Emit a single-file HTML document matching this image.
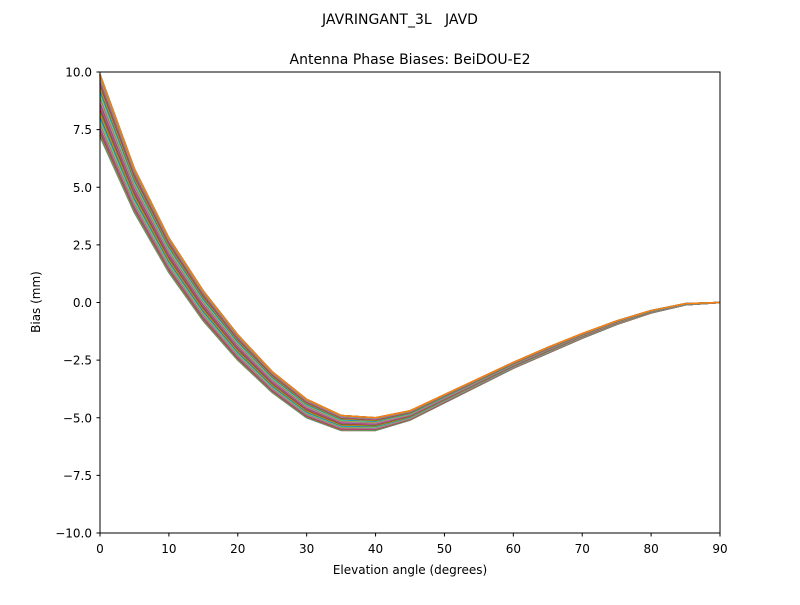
<!DOCTYPE html>
<html><head><meta charset="utf-8"><style>
body{margin:0;background:#fff;font-family:"Liberation Sans","DejaVu Sans",sans-serif}
svg text{font-family:"DejaVu Sans","Liberation Sans",sans-serif}
</style></head><body>
<svg id="chart" width="800" height="600" xmlns="http://www.w3.org/2000/svg">
<rect width="800" height="600" fill="#fff"/>
<text x="400" y="24" font-size="14" text-anchor="middle">JAVRINGANT_3L&#160;&#160;&#160;JAVD</text>
<text x="410" y="64" font-size="14" text-anchor="middle">Antenna Phase Biases: BeiDOU-E2</text>
<g id="lines"></g>
<rect x="100" y="72" width="620" height="461" fill="none" stroke="#000" stroke-width="1"/>
<g id="xt"></g>
<g id="yt"></g>
<text x="410" y="574" font-size="12" text-anchor="middle">Elevation angle (degrees)</text>
<text transform="translate(40,302) rotate(-90)" font-size="12" text-anchor="middle">Bias (mm)</text>
</svg>
<script>
const elevations=[0,5,10,15,20,25,30,35,40,45,50,55,60,65,70,75,80,85,90];
const upperBias=[9.9,5.8,2.8,0.5,-1.4,-3.0,-4.2,-4.9,-5.0,-4.7,-4.0,-3.3,-2.6,-1.95,-1.35,-0.8,-0.35,-0.05,0];
const lowerBias=[7.2,3.9,1.3,-0.8,-2.5,-3.9,-5.0,-5.55,-5.55,-5.1,-4.35,-3.6,-2.85,-2.2,-1.55,-0.95,-0.45,-0.1,0];
const azimuths=[];for(let a=0;a<360;a+=5)azimuths.push(a);
const xTicks=[0,10,20,30,40,50,60,70,80,90];
const yTicks=[10,7.5,5,2.5,0,-2.5,-5,-7.5,-10];
const yTickLabels=["10.0","7.5","5.0","2.5","0.0","−2.5","−5.0","−7.5","−10.0"];
const colors=["#1f77b4","#ff7f0e","#2ca02c","#d62728","#9467bd","#8c564b","#e377c2","#7f7f7f","#bcbd22","#17becf"];
const NS="http://www.w3.org/2000/svg";
const X=v=>100+v/90*620, Y=v=>302.5-v*23.05;
const g=document.getElementById('lines');
azimuths.forEach((az,i)=>{
  const w=(1+Math.cos(az*Math.PI/180))/2;
  const pts=elevations.map((e,j)=>X(e).toFixed(2)+','+Y(lowerBias[j]+w*(upperBias[j]-lowerBias[j])).toFixed(2)).join(' ');
  const p=document.createElementNS(NS,'polyline');
  p.setAttribute('points',pts);p.setAttribute('fill','none');
  p.setAttribute('stroke',colors[i%10]);p.setAttribute('stroke-width','1.5');
  
  
  g.appendChild(p);
});
const xt=document.getElementById('xt');
xTicks.forEach(t=>{
  const l=document.createElementNS(NS,'line');
  l.setAttribute('x1',X(t));l.setAttribute('x2',X(t));l.setAttribute('y1',533);l.setAttribute('y2',536.5);l.setAttribute('stroke','#000');
  
  
  xt.appendChild(l);
  const s=document.createElementNS(NS,'text');
  s.setAttribute('x',X(t));s.setAttribute('y',553);s.setAttribute('font-size','12');s.setAttribute('text-anchor','middle');s.textContent=t;
  
  
  xt.appendChild(s);
});
const yt=document.getElementById('yt');
yTicks.forEach((t,i)=>{
  const l=document.createElementNS(NS,'line');
  l.setAttribute('x1',96.5);l.setAttribute('x2',100);l.setAttribute('y1',Y(t));l.setAttribute('y2',Y(t));l.setAttribute('stroke','#000');
  
  
  yt.appendChild(l);
  const s=document.createElementNS(NS,'text');
  s.setAttribute('x',92);s.setAttribute('y',Y(t)+4.5);s.setAttribute('font-size','12');s.setAttribute('text-anchor','end');s.textContent=yTickLabels[i];
  
  
  yt.appendChild(s);
});
</script>
</body></html>
